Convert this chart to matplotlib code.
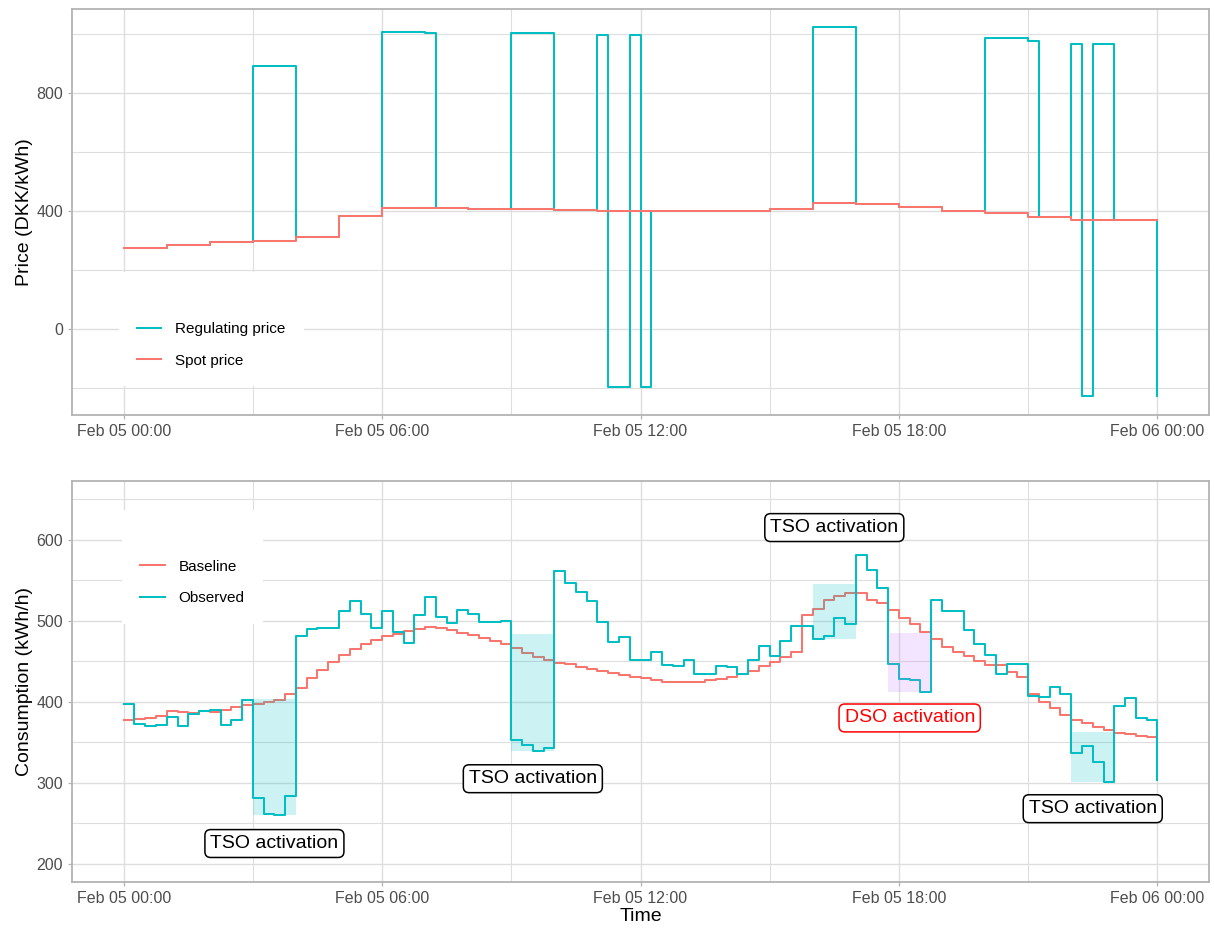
import matplotlib
matplotlib.use("Agg")
import matplotlib.pyplot as plt
import matplotlib.dates as mdates
import pandas as pd

plt.rcParams['font.family'] = ['Liberation Sans', 'DejaVu Sans']

TEAL = '#00BFC4'
RED = '#F8766D'

day = pd.Timestamp('2023-02-05')
hours = pd.date_range(day, periods=25, freq='h')
quarters = pd.date_range(day, periods=97, freq='15min')

# hourly spot price (last value closes the step at Feb 06 00:00)
spot_price = [273, 286, 294, 297, 311, 383, 412, 410, 408, 407, 403, 400,
              399, 401, 401, 407, 428, 424, 413, 401, 394, 381, 371, 368,
              368]

# regulating price per quarter hour, one row per hour
regulating_price = [
    273, 273, 273, 273,
    286, 286, 286, 286,
    294, 294, 294, 294,
    893, 893, 893, 893,
    311, 311, 311, 311,
    383, 383, 383, 383,
    1008, 1008, 1008, 1008,
    1006, 410, 410, 410,
    408, 408, 408, 408,
    1003, 1003, 1003, 1003,
    403, 403, 403, 403,
    997, -197, -197, 997,
    -197, 399, 399, 399,
    401, 401, 401, 401,
    401, 401, 401, 401,
    407, 407, 407, 407,
    1023, 1023, 1023, 1023,
    424, 424, 424, 424,
    413, 413, 413, 413,
    401, 401, 401, 401,
    988, 988, 988, 988,
    976, 381, 381, 381,
    967, -226, 967, 967,
    368, 368, 368, 368,
    -229,
]

baseline = [
    377, 379, 380, 382, 389, 387, 386, 388, 387, 390, 394, 396,
    397, 400, 402, 410, 417, 429, 439, 449, 458, 465, 471, 476,
    481, 484, 487, 490, 492, 491, 488, 485, 482, 479, 475, 471,
    466, 460, 455, 451, 448, 446, 443, 441, 438, 436, 433, 431,
    429, 427, 425, 424, 424, 425, 427, 428, 431, 434, 438, 444,
    449, 455, 462, 507, 515, 526, 530, 534, 534, 526, 522, 513,
    503, 496, 486, 477, 468, 462, 456, 450, 445, 445, 437, 431,
    410, 400, 392, 384, 378, 374, 369, 365, 362, 360, 358, 356,
    356,
]

observed = [
    397, 372, 370, 371, 381, 370, 385, 389, 390, 371, 378, 402,
    281, 261, 260, 284, 481, 490, 491, 491, 512, 524, 508, 491,
    512, 486, 473, 507, 529, 505, 497, 513, 508, 499, 498, 500,
    353, 347, 339, 343, 562, 546, 536, 524, 499, 474, 480, 451,
    451, 461, 445, 444, 452, 434, 434, 444, 443, 434, 452, 469,
    457, 475, 493, 493, 478, 481, 504, 496, 581, 563, 541, 447,
    428, 427, 412, 525, 512, 512, 488, 471, 458, 434, 447, 447,
    407, 406, 418, 410, 337, 346, 326, 301, 395, 405, 380, 378,
    304,
]

# activation windows
act_start = ['03:00', '09:00', '16:00', '17:45', '22:00']
act_end = ['04:00', '10:00', '17:00', '18:45', '23:00']
act_low = [260, 339, 477, 412, 301]
act_high = [403, 484, 545, 485, 363]
act_color = [TEAL, TEAL, TEAL, '#C77CFF', TEAL]

# labels
label_text = ['TSO activation', 'TSO activation', 'TSO activation',
              'DSO activation', 'TSO activation']
label_time = ['03:30', '09:30', '16:30', '18:15', '22:30']
label_value = [225, 305, 615, 380, 268]
label_color = ['black', 'black', 'black', 'red', 'black']


def at(hhmm):
    return day + pd.Timedelta(hhmm + ':00')


def style(ax, ylim, major, minor):
    ax.set_xlim(day - pd.Timedelta(hours=1.2), day + pd.Timedelta(hours=25.2))
    ax.set_ylim(*ylim)
    ax.set_yticks(major)
    ax.set_yticks(minor, minor=True)
    ax.xaxis.set_major_locator(mdates.HourLocator(byhour=[0, 6, 12, 18]))
    ax.xaxis.set_minor_locator(mdates.HourLocator(byhour=[3, 9, 15, 21]))
    ax.xaxis.set_major_formatter(mdates.DateFormatter('%b %d %H:%M'))
    ax.set_axisbelow(True)
    ax.grid(which='major', color='#DEDEDE', lw=1.0)
    ax.grid(which='minor', color='#DEDEDE', lw=0.8)
    ax.tick_params(which='major', length=3, width=0.9, color='#B3B3B3',
                   labelsize=11.5, labelcolor='#4D4D4D', pad=3.5)
    ax.tick_params(which='minor', length=0)
    for sp in ax.spines.values():
        sp.set_color('#B3B3B3')
        sp.set_linewidth(1.3)


def add_legend(ax, handles, labels, anchor):
    ax.legend(handles, labels, loc='upper left', bbox_to_anchor=anchor,
              borderaxespad=0, facecolor='white', edgecolor='none',
              framealpha=1, fancybox=False, fontsize=11, handlelength=1.6,
              handletextpad=0.9, labelspacing=1.15, borderpad=1.2,
              title=' ', title_fontsize=11)


fig = plt.figure(figsize=(12.14, 9.3), dpi=100)
ax1 = fig.add_axes([0.0593, 0.5538, 0.9366, 0.4366])
ax2 = fig.add_axes([0.0593, 0.0516, 0.9366, 0.4312])

# --- prices ---
h_reg, = ax1.step(quarters, regulating_price, where='post', color=TEAL, lw=1.45)
h_spot, = ax1.step(hours, spot_price, where='post', color=RED, lw=1.45)
style(ax1, (-292, 1086), [0, 400, 800], [-200, 200, 600, 1000])
ax1.set_ylabel('Price (DKK/kWh)', fontsize=14)
ax1.yaxis.set_label_coords(-0.034, 0.5)
add_legend(ax1, [h_reg, h_spot], ['Regulating price', 'Spot price'],
           (0.041, 0.352))

# --- consumption ---
h_base, = ax2.step(quarters, baseline, where='post', color=RED, lw=1.45)
h_obs, = ax2.step(quarters, observed, where='post', color=TEAL, lw=1.45)
for s, e, lo, hi, c in zip(act_start, act_end, act_low, act_high, act_color):
    ax2.fill_between([at(s), at(e)], lo, hi, color=c, alpha=0.2, lw=0, zorder=3)
for txt, t, v, c in zip(label_text, label_time, label_value, label_color):
    ax2.text(at(t), v, txt, ha='center', va='center', fontsize=14, color=c,
             zorder=6,
             bbox=dict(boxstyle='round,pad=0.28,rounding_size=0.3',
                       fc='white', ec=c, lw=1.1))
style(ax2, (177.5, 672.5), [200, 300, 400, 500, 600], [250, 350, 450, 550, 650])
ax2.set_ylabel('Consumption (kWh/h)', fontsize=14)
ax2.yaxis.set_label_coords(-0.034, 0.5)
ax2.set_xlabel('Time', fontsize=14)
ax2.xaxis.set_label_coords(0.5, -0.065)
add_legend(ax2, [h_base, h_obs], ['Baseline', 'Observed'], (0.044, 0.928))

fig.savefig('out.png', dpi=100)
